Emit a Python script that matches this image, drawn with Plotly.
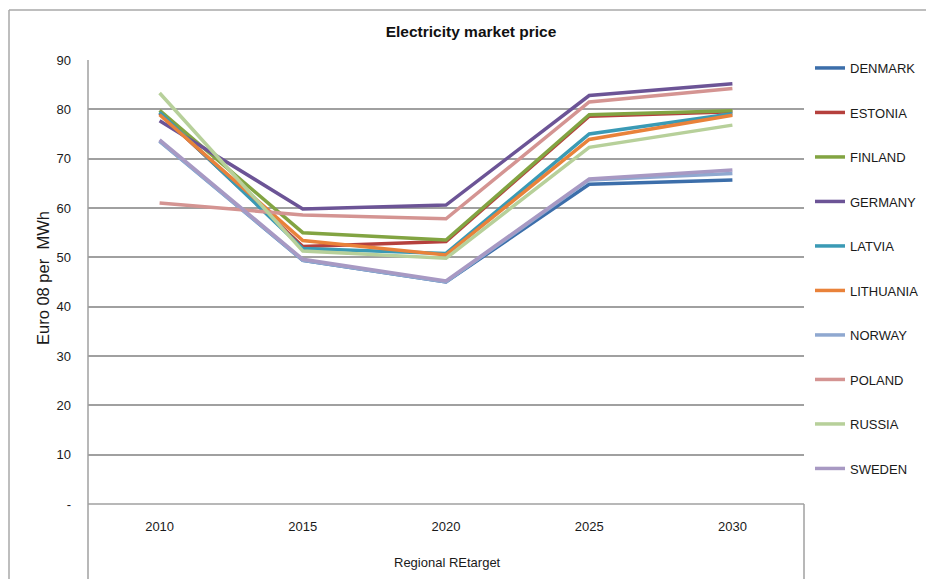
import plotly.graph_objects as go

years = ["2010", "2015", "2020", "2025", "2030"]
countries = ["DENMARK", "ESTONIA", "FINLAND", "GERMANY", "LATVIA",
             "LITHUANIA", "NORWAY", "POLAND", "RUSSIA", "SWEDEN"]

denmark = [73.6, 49.4, 45.0, 64.8, 65.7]
estonia = [79.2, 52.2, 53.2, 78.6, 79.5]
finland = [79.8, 55.0, 53.5, 78.9, 79.7]
germany = [77.7, 59.8, 60.6, 82.8, 85.2]
latvia = [79.4, 51.8, 50.8, 75.0, 79.1]
lithuania = [78.9, 53.4, 50.5, 73.9, 78.8]
norway = [73.5, 49.4, 45.0, 65.7, 67.0]
poland = [61.0, 58.6, 57.8, 81.5, 84.2]
russia = [83.3, 51.3, 49.8, 72.3, 76.8]
sweden = [73.8, 49.6, 45.2, 65.9, 67.7]

series = [denmark, estonia, finland, germany, latvia,
          lithuania, norway, poland, russia, sweden]

colors = ["#3C6EAA", "#B5403D", "#82A442", "#6C5496", "#3A9AB5",
          "#E9823A", "#8FA8D0", "#D49492", "#B7D09A", "#A899C3"]

y_tickvals = [0, 10, 20, 30, 40, 50, 60, 70, 80, 90]
y_ticktext = ["-", "10", "20", "30", "40", "50", "60", "70", "80", "90"]

W, H = 926, 579
L, R, T, B = 88, 804, 60, 504  # plot area in pixels


def px(x):
    return (x - L) / (R - L)


def py(y):
    return (B - y) / (B - T)


fig = go.Figure()
for name, vals, col in zip(countries, series, colors):
    fig.add_trace(go.Scatter(
        x=years, y=vals, mode="lines", name=name, legendgroup=name,
        line=dict(color=col, width=3.5),
    ))

FONT = "Liberation Sans, Arial, sans-serif"
GRID = "#A0A0A0"

shapes = [
    # outer frame (top and left)
    dict(type="line", xref="paper", yref="paper", x0=px(9), x1=px(W + 5), y0=py(10), y1=py(10),
         line=dict(color="#A8A8A8", width=1.5)),
    dict(type="line", xref="paper", yref="paper", x0=px(9), x1=px(9), y0=py(10), y1=py(H + 5),
         line=dict(color="#A8A8A8", width=1.5)),
    # category box lines below axis
    dict(type="line", xref="paper", yref="paper", x0=0, x1=0, y0=1, y1=py(H + 5),
         line=dict(color=GRID, width=1.5)),
    dict(type="line", xref="paper", yref="paper", x0=1, x1=1, y0=0, y1=py(H + 5),
         line=dict(color=GRID, width=1.5)),
    dict(type="line", xref="paper", yref="paper", x0=0, x1=1, y0=0, y1=0,
         line=dict(color=GRID, width=1.5)),
]

fig.update_layout(
    width=W, height=H,
    margin=dict(l=L, r=W - R, t=T, b=H - B, pad=0, autoexpand=False),
    paper_bgcolor="white", plot_bgcolor="white",
    font=dict(family=FONT, size=12, color="#1a1a1a"),
    title=dict(text="<b>Electricity market price</b>", x=471 / W, xanchor="center",
               y=1 - 32 / H, yanchor="middle", font=dict(size=15.5, family=FONT, color="#111")),
    xaxis=dict(type="category", range=[-0.5, 4.5], showgrid=False, zeroline=False,
               showline=False, ticks="", tickfont=dict(size=13), ticklabelstandoff=13),
    yaxis=dict(range=[0, 90], tickvals=y_tickvals, ticktext=y_ticktext,
               showgrid=True, gridcolor=GRID, gridwidth=1.5, zeroline=False,
               showline=False, ticks="", tickfont=dict(size=13), ticklabelstandoff=16),
    showlegend=True,
    legend=dict(x=px(810), xanchor="left", y=py(53), yanchor="top",
                bgcolor="rgba(0,0,0,0)", borderwidth=0, tracegroupgap=24.6,
                itemwidth=30, maxheight=560, font=dict(size=13, family=FONT)),
    shapes=shapes,
    annotations=[
        dict(text="Regional REtarget", xref="paper", yref="paper", x=px(447), y=py(562),
             xanchor="center", yanchor="middle", showarrow=False, font=dict(size=13)),
        dict(text="Euro 08 per\u00a0 MWh", xref="paper", yref="paper", x=px(43), y=py(278),
             xanchor="center", yanchor="middle", textangle=-90, showarrow=False,
             font=dict(size=16.5, family=FONT)),
    ],
)

fig.write_html(
    "out.html",
    config={"displayModeBar": False},
    post_script="document.body.style.margin='0';document.body.style.overflow='hidden';",
)
